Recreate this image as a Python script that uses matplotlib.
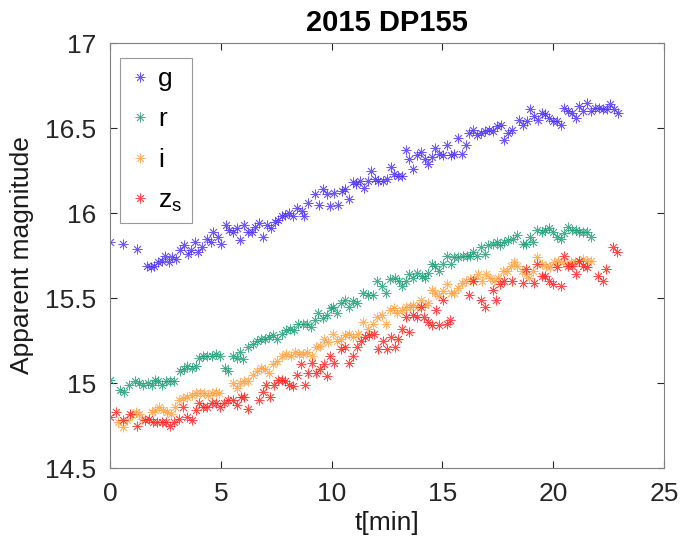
import numpy as np
import matplotlib
matplotlib.use("Agg")
import matplotlib.pyplot as plt
from matplotlib.ticker import FormatStrFormatter

# ---- data (t in minutes, apparent magnitude) ----
t_g = [0, 0.6, 1.2, 1.65, 1.85, 2.0, 2.18, 2.36, 2.48, 2.66, 2.78, 2.96, 3.16, 3.35, 3.5,
       3.65, 3.84, 3.98, 4.17, 4.36, 4.56, 4.66, 4.86, 5.0, 5.22, 5.37, 5.56, 5.72, 5.87,
       6.06, 6.24, 6.39, 6.54, 6.72, 6.89, 7.07, 7.25, 7.45, 7.6, 7.75, 7.9, 8.08, 8.27,
       8.42, 8.65, 8.75, 8.95, 9.25, 9.45, 9.6, 9.78, 9.93, 10.1, 10.3, 10.45, 10.6, 10.78,
       10.95, 11.1, 11.28, 11.46, 11.63, 11.78, 11.96, 12.11, 12.3, 12.49, 12.67, 12.83,
       13.01, 13.16, 13.36, 13.5, 13.69, 13.84, 14.02, 14.21, 14.37, 14.52, 14.67, 14.86,
       15.01, 15.19, 15.37, 15.52, 15.72, 15.9, 16.07, 16.21, 16.4, 16.58, 16.74, 16.92,
       17.12, 17.3, 17.48, 17.63, 17.78, 17.97, 18.13, 18.47, 18.62, 18.8, 18.95, 19.13,
       19.3, 19.48, 19.63, 19.82, 20.0, 20.16, 20.34, 20.49, 20.68, 20.84, 21.03, 21.18,
       21.36, 21.54, 21.71, 21.89, 22.08, 22.26, 22.41, 22.56, 22.74, 22.91]
m_g = [15.83, 15.82, 15.79, 15.69, 15.68, 15.69, 15.71, 15.72, 15.75, 15.71, 15.74, 15.73,
       15.78, 15.81, 15.76, 15.78, 15.83, 15.77, 15.80, 15.85, 15.83, 15.89, 15.86, 15.82,
       15.93, 15.90, 15.89, 15.91, 15.84, 15.93, 15.89, 15.89, 15.92, 15.94, 15.86, 15.93,
       15.91, 15.95, 15.96, 15.98, 15.99, 16.00, 15.98, 16.03, 16.01, 15.98, 16.06, 16.11,
       16.05, 16.14, 16.11, 16.04, 16.12, 16.05, 16.13, 16.14, 16.08, 16.18, 16.17, 16.19,
       16.15, 16.19, 16.25, 16.20, 16.19, 16.19, 16.20, 16.27, 16.23, 16.22, 16.22, 16.37,
       16.32, 16.26, 16.34, 16.36, 16.32, 16.29, 16.33, 16.38, 16.35, 16.34, 16.40, 16.34,
       16.35, 16.44, 16.35, 16.40, 16.47, 16.49, 16.46, 16.47, 16.48, 16.49, 16.48, 16.51,
       16.52, 16.43, 16.47, 16.49, 16.55, 16.52, 16.54, 16.61, 16.57, 16.55, 16.59, 16.58,
       16.56, 16.54, 16.54, 16.52, 16.62, 16.60, 16.59, 16.56, 16.63, 16.60, 16.65, 16.60,
       16.62, 16.62, 16.61, 16.61, 16.64, 16.61, 16.59]

t_r = [0, 0.45, 0.63, 0.87, 1.13, 1.32, 1.5, 1.73, 1.88, 2.03, 2.18, 2.33, 2.53, 2.71, 2.89,
       3.16, 3.34, 3.49, 3.69, 3.88, 4.03, 4.21, 4.39, 4.59, 4.78, 4.96, 5.19, 5.34, 5.54,
       5.72, 5.87, 6.02, 6.24, 6.44, 6.62, 6.8, 6.99, 7.19, 7.37, 7.55, 7.75, 7.94, 8.12,
       8.32, 8.5, 8.69, 8.87, 9.06, 9.25, 9.4, 9.6, 9.78, 9.96, 10.08, 10.26, 10.41, 10.6,
       10.8, 10.95, 11.16, 11.43, 11.66, 11.85, 12.03, 12.26, 12.45, 12.64, 12.86, 13.06,
       13.16, 13.36, 13.51, 13.69, 13.87, 14.06, 14.21, 14.37, 14.52, 14.67, 14.86, 15.01,
       15.19, 15.37, 15.52, 15.72, 15.91, 16.1, 16.25, 16.4, 16.58, 16.73, 16.92, 17.07,
       17.27, 17.45, 17.6, 17.78, 17.97, 18.17, 18.35, 18.62, 18.77, 18.95, 19.1, 19.28,
       19.48, 19.63, 19.82, 19.98, 20.16, 20.34, 20.49, 20.68, 20.84, 21.03, 21.18, 21.36,
       21.54, 21.69]
m_r = [15.02, 14.96, 14.95, 14.99, 15.01, 15.00, 14.99, 15.00, 14.99, 15.02, 15.01, 14.99,
       15.01, 15.01, 15.01, 15.07, 15.08, 15.10, 15.09, 15.10, 15.15, 15.16, 15.16, 15.16,
       15.17, 15.16, 15.09, 15.07, 15.16, 15.15, 15.18, 15.14, 15.21, 15.23, 15.25, 15.26,
       15.26, 15.27, 15.28, 15.26, 15.29, 15.31, 15.32, 15.31, 15.35, 15.35, 15.35, 15.33,
       15.37, 15.41, 15.38, 15.40, 15.44, 15.45, 15.41, 15.47, 15.49, 15.45, 15.48, 15.47,
       15.53, 15.52, 15.52, 15.60, 15.57, 15.53, 15.61, 15.62, 15.60, 15.57, 15.60, 15.64,
       15.62, 15.65, 15.63, 15.62, 15.65, 15.70, 15.69, 15.66, 15.70, 15.75, 15.70, 15.74,
       15.74, 15.75, 15.75, 15.75, 15.77, 15.75, 15.80, 15.76, 15.81, 15.82, 15.83, 15.81,
       15.83, 15.84, 15.85, 15.87, 15.82, 15.82, 15.86, 15.83, 15.90, 15.89, 15.90, 15.91,
       15.89, 15.86, 15.85, 15.88, 15.92, 15.90, 15.90, 15.89, 15.89, 15.89, 15.86]

t_i = [0.37, 0.6, 0.75, 0.98, 1.17, 1.32, 1.43, 1.88, 2.03, 2.23, 2.41, 2.56, 2.74, 2.93,
       3.13, 3.31, 3.49, 3.69, 3.88, 4.06, 4.24, 4.44, 4.59, 4.78, 4.93, 5.54, 5.72, 5.87,
       6.05, 6.24, 6.44, 6.62, 6.8, 6.99, 7.19, 7.37, 7.55, 7.75, 7.94, 8.15, 8.35, 8.54,
       8.72, 8.9, 9.1, 9.3, 9.48, 9.66, 9.85, 10.05, 10.23, 10.41, 10.6, 10.8, 10.98, 11.2,
       11.43, 11.66, 11.85, 12.03, 12.26, 12.45, 12.64, 12.82, 12.97, 13.16, 13.36, 13.54,
       13.69, 13.87, 14.02, 14.21, 14.37, 14.52, 14.67, 14.86, 15.01, 15.19, 15.37, 15.52,
       15.72, 15.87, 16.07, 16.25, 16.43, 16.62, 16.77, 16.97, 17.15, 17.33, 17.52, 17.72,
       17.9, 18.08, 18.23, 18.38, 18.58, 18.77, 18.92, 19.1, 19.28, 19.48, 19.67, 19.86,
       20.04, 20.23, 20.43, 20.61, 20.79, 20.98, 21.18, 21.36, 21.51, 21.69]
m_i = [14.77, 14.74, 14.78, 14.81, 14.83, 14.82, 14.79, 14.83, 14.84, 14.86, 14.84, 14.83,
       14.82, 14.86, 14.90, 14.91, 14.92, 14.93, 14.94, 14.94, 14.94, 14.93, 14.94, 14.95,
       14.94, 15.00, 14.97, 15.00, 15.01, 15.01, 15.05, 15.07, 15.09, 15.08, 15.06, 15.11,
       15.13, 15.16, 15.17, 15.16, 15.18, 15.17, 15.17, 15.18, 15.16, 15.21, 15.22, 15.26,
       15.24, 15.29, 15.25, 15.26, 15.28, 15.29, 15.27, 15.29, 15.36, 15.32, 15.35, 15.39,
       15.40, 15.35, 15.43, 15.44, 15.41, 15.43, 15.45, 15.45, 15.46, 15.45, 15.49, 15.46,
       15.47, 15.55, 15.53, 15.51, 15.54, 15.58, 15.53, 15.53, 15.56, 15.59, 15.60, 15.61,
       15.61, 15.64, 15.60, 15.64, 15.62, 15.60, 15.62, 15.66, 15.66, 15.69, 15.71, 15.69,
       15.66, 15.64, 15.62, 15.66, 15.74, 15.70, 15.69, 15.68, 15.71, 15.72, 15.71, 15.70,
       15.71, 15.71, 15.72, 15.73, 15.72, 15.72]

t_z = [0, 0.27, 0.57, 0.9, 1.2, 1.58, 1.77, 1.95, 2.14, 2.33, 2.53, 2.71, 2.89, 3.13, 3.31,
       3.49, 3.69, 3.88, 4.03, 4.21, 4.39, 4.59, 4.78, 4.96, 5.14, 5.34, 5.54, 5.72, 5.9,
       6.05, 6.24, 6.74, 6.89, 7.04, 7.22, 7.4, 7.6, 7.75, 7.9, 8.09, 8.24, 8.42, 8.6, 8.8,
       8.95, 9.1, 9.3, 9.48, 9.66, 9.78, 9.93, 10.12, 10.41, 10.6, 10.8, 10.98, 11.16,
       11.31, 11.5, 11.7, 11.91, 12.11, 12.3, 12.48, 12.66, 12.86, 13.0, 13.16, 13.36,
       13.51, 13.69, 13.84, 14.02, 14.17, 14.37, 14.52, 14.71, 14.86, 15.04, 15.19, 15.34,
       16.21, 16.4, 16.73, 16.92, 17.27, 17.42, 17.6, 17.78, 18.13, 18.62, 18.77, 19.13,
       19.28, 19.48, 19.63, 19.82, 19.98, 20.16, 20.34, 20.49, 20.68, 20.84, 21.03, 21.18,
       21.36, 21.54, 22.04, 22.23, 22.38, 22.71, 22.89]
m_z = [14.80, 14.83, 14.78, 14.82, 14.75, 14.78, 14.79, 14.77, 14.77, 14.77, 14.77, 14.75,
       14.77, 14.79, 14.86, 14.80, 14.78, 14.84, 14.88, 14.86, 14.86, 14.88, 14.88, 14.86,
       14.88, 14.90, 14.90, 14.87, 14.92, 14.92, 14.85, 14.90, 14.95, 14.99, 14.92, 14.99,
       15.02, 15.02, 15.01, 14.99, 14.98, 15.05, 15.11, 14.99, 15.06, 15.12, 15.06, 15.08,
       15.11, 15.04, 15.16, 15.12, 15.20, 15.21, 15.12, 15.16, 15.21, 15.25, 15.27, 15.28,
       15.29, 15.20, 15.25, 15.20, 15.27, 15.21, 15.26, 15.32, 15.39, 15.30, 15.40, 15.39,
       15.45, 15.39, 15.36, 15.34, 15.43, 15.34, 15.49, 15.35, 15.37, 15.52, 15.60, 15.49,
       15.45, 15.55, 15.49, 15.58, 15.60, 15.60, 15.59, 15.67, 15.59, 15.70, 15.63, 15.63,
       15.60, 15.58, 15.68, 15.57, 15.75, 15.69, 15.69, 15.64, 15.72, 15.69, 15.68, 15.63,
       15.60, 15.67, 15.80, 15.77]

series = [
    ("g", t_g, m_g, "#4a2dff"),
    ("r", t_r, m_r, "#1b9e77"),
    ("i", t_i, m_i, "#ffa040"),
    (r"z$_\mathregular{s}$", t_z, m_z, "#ff2020"),
]

plt.rcParams["font.family"] = ["Liberation Sans", "DejaVu Sans"]

fig = plt.figure(figsize=(6.81, 5.43), dpi=100)
ax = fig.add_axes([0.1615, 0.1381, 0.8135, 0.7827])

star = (8, 2, 0)   # 8-armed asterisk, like MATLAB '*'
for lab, t, m, c in series:
    ax.plot(t, m, ls="none", marker=star, ms=7, mew=0.6, color=c, alpha=0.8, label=lab)

ax.set_xlim(0, 25)
ax.set_ylim(14.5, 17)
ax.set_xticks(np.arange(0, 26, 5))
ax.set_yticks(np.arange(14.5, 17.01, 0.5))
ax.yaxis.set_major_formatter(FormatStrFormatter("%g"))
ax.tick_params(direction="in", top=True, right=True, length=5, width=0.8,
               labelsize=19, colors="0.15", pad=10)
for s in ax.spines.values():
    s.set_color("0.5")
    s.set_linewidth(0.8)

ax.set_xlabel("t[min]", fontsize=19, labelpad=4, color="0.1")
ax.set_ylabel("Apparent magnitude", fontsize=19, labelpad=8, color="0.1")
ax.set_title("2015 DP155", fontsize=21, fontweight="bold", pad=9)

leg = ax.legend(loc="upper left", bbox_to_anchor=(0.018, 0.965), borderaxespad=0,
                fontsize=19, frameon=True, fancybox=False, edgecolor="0.5",
                handlelength=0.8, handletextpad=0.3, labelspacing=0.62,
                borderpad=0.35, markerscale=1.0)
leg.get_frame().set_linewidth(0.8)

fig.savefig("out.png", dpi=100)
